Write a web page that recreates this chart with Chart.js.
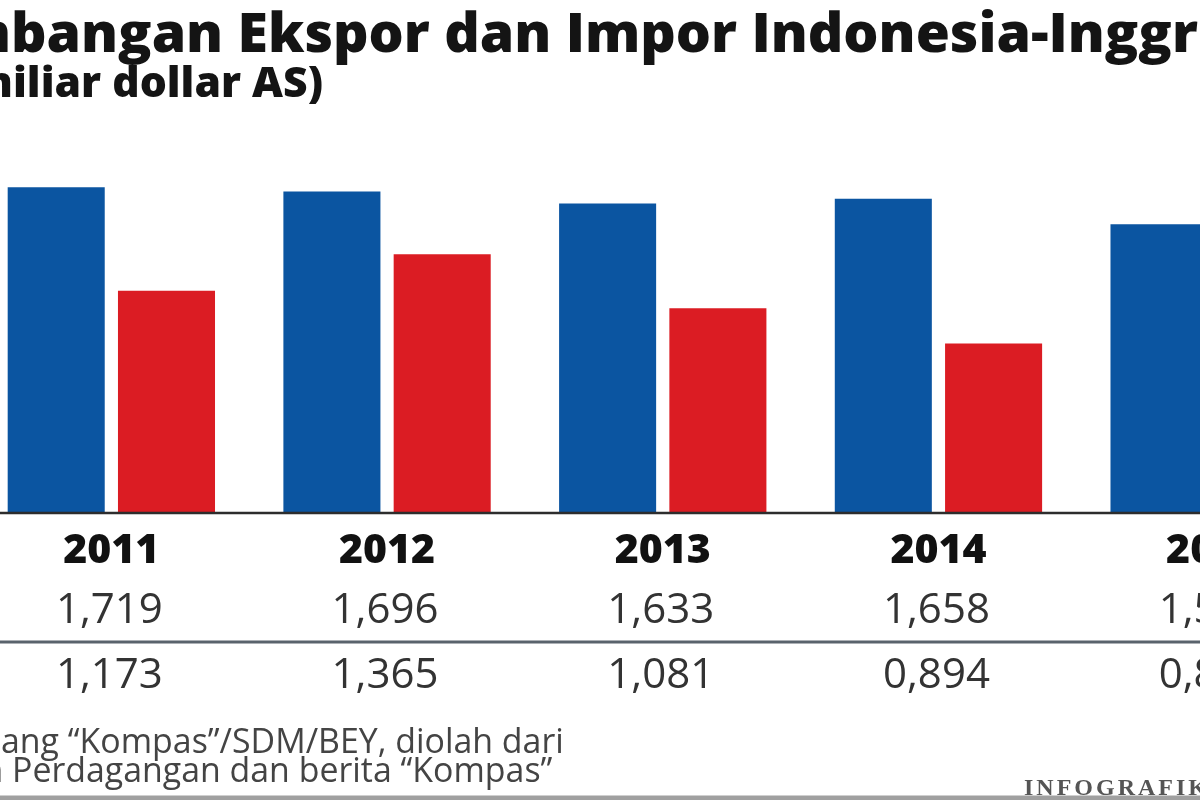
<!DOCTYPE html>
<html><head><meta charset="utf-8">
<script src="https://cdn.jsdelivr.net/npm/chart.js@4/dist/chart.umd.min.js"></script>
<style>
html,body{margin:0;padding:0;background:#fff;width:1200px;height:800px;overflow:hidden;position:relative}
#wrap{position:absolute;left:-100px;top:0;width:1500px;height:800px}
canvas{display:block}
</style></head><body>
<div id="wrap"><canvas id="c" width="1500" height="800" style="width:1500px;height:800px"></canvas></div>
<script>
const years = ['2011', '2012', '2013', '2014', '2015'];
const exportValues = [1.719, 1.696, 1.633, 1.658, 1.524];
const importValues = [1.173, 1.365, 1.081, 0.894, 0.834];
const titleText = 'Perkembangan Ekspor dan Impor Indonesia-Inggris';
const subtitleText = '(miliar dollar AS)';
const sourceLines = ['Sumber: Litbang \u201CKompas\u201D/SDM/BEY, diolah dari', 'Kementerian Perdagangan dan berita \u201CKompas\u201D'];
const creditText = 'INFOGRAFIK';

const OFF = 100;
const fmt = v => v.toFixed(3).replace('.', ',');

function fitSize(ctx, weight, family, text, target) {
  ctx.font = weight + ' 100px ' + family;
  return 100 * target / ctx.measureText(text).width;
}

const decor = {
  id: 'decor',
  afterDraw(chart) {
    const ctx = chart.ctx;
    const xs = chart.scales.x;
    ctx.save();
    ctx.strokeStyle = '#2d2d2d'; ctx.lineWidth = 2.5;
    ctx.beginPath(); ctx.moveTo(0, 513); ctx.lineTo(1500, 513); ctx.stroke();
    ctx.strokeStyle = '#5a636c'; ctx.lineWidth = 3;
    ctx.beginPath(); ctx.moveTo(0, 642); ctx.lineTo(1500, 642); ctx.stroke();
    ctx.strokeStyle = '#a0a0a0'; ctx.lineWidth = 5;
    ctx.beginPath(); ctx.moveTo(0, 798); ctx.lineTo(1500, 798); ctx.stroke();

    ctx.textAlign = 'center'; ctx.textBaseline = 'alphabetic';
    years.forEach((y, i) => {
      const x = xs.getPixelForValue(i);
      ctx.fillStyle = '#111';
      ctx.font = '800 41px "Open Sans"';
      ctx.fillText(y, x, 563);
      ctx.fillStyle = '#333';
      ctx.font = '400 42px "Open Sans"';
      ctx.fillText(fmt(exportValues[i]), x - 2, 623);
      ctx.fillText(fmt(importValues[i]), x - 2, 688);
    });

    ctx.textAlign = 'left';
    const tVis = 'bangan Ekspor dan Impor Indonesia-Inggri';
    const ts = fitSize(ctx, '800', '"Open Sans"', tVis, 1205);
    ctx.font = '800 ' + ts + 'px "Open Sans"';
    const tPre = ctx.measureText('Perkem').width;
    ctx.fillStyle = '#141414';
    ctx.fillText(titleText, OFF + 11 - tPre, 52);
    const sVis = 'iliar dollar AS)';
    const ss = fitSize(ctx, '800', '"Open Sans"', sVis, 310);
    ctx.font = '800 ' + ss + 'px "Open Sans"';
    const sPre = ctx.measureText('(m').width;
    ctx.fillText(subtitleText, OFF + 13 - sPre, 97);
    const l1Vis = 'ang \u201CKompas\u201D/SDM/BEY, diolah dari';
    const fs = fitSize(ctx, '400', '"Open Sans"', l1Vis, 563);
    ctx.font = '400 ' + fs + 'px "Open Sans"';
    ctx.fillStyle = '#444';
    const p1 = ctx.measureText('Sumber: Litb').width;
    ctx.fillText(sourceLines[0], OFF + 1 - p1, 753);
    const p2 = ctx.measureText('Kementerian ').width;
    ctx.fillText(sourceLines[1], OFF + 12 - p2, 782);
    ctx.font = 'bold 24px "Liberation Serif"';
    ctx.letterSpacing = '3px';
    ctx.fillStyle = '#555';
    ctx.fillText(creditText, OFF + 1024, 795);
    ctx.restore();
  }
};

new Chart(document.getElementById('c'), {
  type: 'bar',
  data: {
    labels: years,
    datasets: [
      { label: 'Ekspor', data: exportValues, backgroundColor: '#0b55a1', borderWidth: 0 },
      { label: 'Impor', data: importValues, backgroundColor: '#db1c23', borderWidth: 0 }
    ]
  },
  options: {
    responsive: false,
    maintainAspectRatio: false,
    animation: false,
    devicePixelRatio: 1,
    layout: { padding: { left: 73.5, right: 48, top: 134, bottom: 287 } },
    categoryPercentage: 0.8,
    barPercentage: 0.88,
    plugins: { legend: { display: false }, tooltip: { enabled: false }, title: { display: false } },
    scales: {
      x: { display: false },
      y: { display: false, min: 0, max: 2.0 }
    }
  },
  plugins: [decor]
});
</script>
</body></html>
